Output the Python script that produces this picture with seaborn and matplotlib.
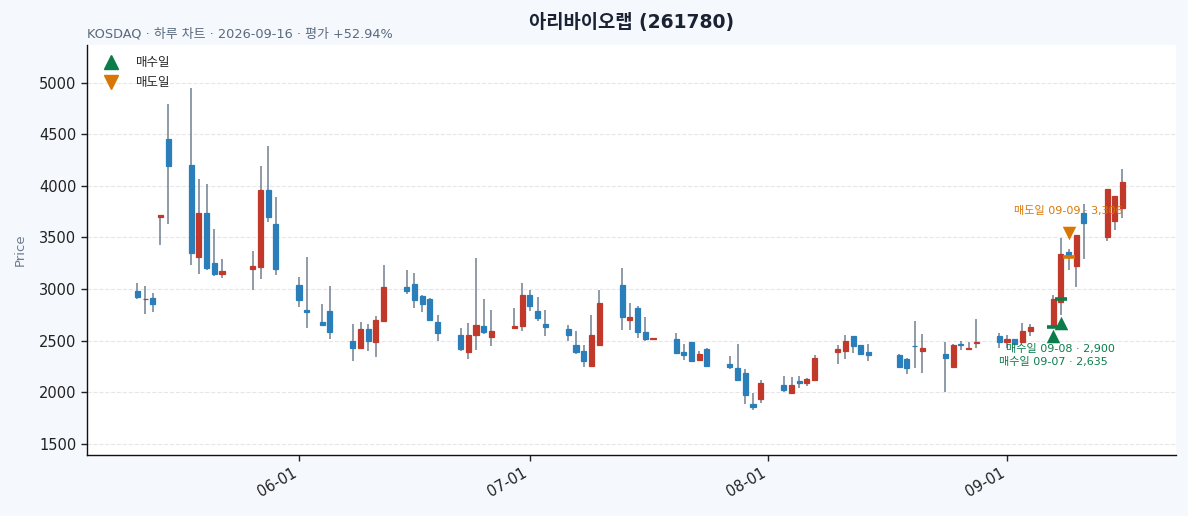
import pandas as pd
import numpy as np
import matplotlib
matplotlib.use("Agg")
import matplotlib.pyplot as plt
import matplotlib.dates as mdates
from matplotlib.lines import Line2D
import seaborn as sns

## daily candles
dates = ["2026-05-11", "2026-05-12", "2026-05-13", "2026-05-14", "2026-05-15",
         "2026-05-18", "2026-05-19", "2026-05-20", "2026-05-21", "2026-05-22",
         "2026-05-26", "2026-05-27", "2026-05-28", "2026-05-29",
         "2026-06-01", "2026-06-02", "2026-06-04", "2026-06-05",
         "2026-06-08", "2026-06-09", "2026-06-10", "2026-06-11", "2026-06-12",
         "2026-06-15", "2026-06-16", "2026-06-17", "2026-06-18", "2026-06-19",
         "2026-06-22", "2026-06-23", "2026-06-24", "2026-06-25", "2026-06-26",
         "2026-06-29", "2026-06-30", "2026-07-01", "2026-07-02", "2026-07-03",
         "2026-07-06", "2026-07-07", "2026-07-08", "2026-07-09", "2026-07-10",
         "2026-07-13", "2026-07-14", "2026-07-15", "2026-07-16", "2026-07-17",
         "2026-07-20", "2026-07-21", "2026-07-22", "2026-07-23", "2026-07-24",
         "2026-07-27", "2026-07-28", "2026-07-29", "2026-07-30", "2026-07-31",
         "2026-08-03", "2026-08-04", "2026-08-05", "2026-08-06", "2026-08-07",
         "2026-08-10", "2026-08-11", "2026-08-12", "2026-08-13", "2026-08-14",
         "2026-08-18", "2026-08-19", "2026-08-20", "2026-08-21",
         "2026-08-24", "2026-08-25", "2026-08-26", "2026-08-27", "2026-08-28",
         "2026-08-31", "2026-09-01", "2026-09-02", "2026-09-03", "2026-09-04",
         "2026-09-07", "2026-09-08", "2026-09-09", "2026-09-10", "2026-09-11",
         "2026-09-14", "2026-09-15", "2026-09-16"]

opens = [2981, 2900, 2910, 3701, 4451,
         4202, 3313, 3733, 3249, 3142,
         3197, 3217, 3959, 3630,
         3039, 2792, 2683, 2782,
         2500, 2423, 2609, 2487, 2692,
         3022, 3051, 2936, 2907, 2676,
         2551, 2391, 2555, 2644, 2538,
         2622, 2644, 2942, 2782, 2663,
         2615, 2455, 2397, 2256, 2458,
         3038, 2699, 2817, 2587, 2516,
         2519, 2385, 2484, 2314, 2417,
         2269, 2234, 2183, 1888, 1930,
         2068, 1994, 2106, 2090, 2119,
         2390, 2403, 2539, 2452, 2387,
         2355, 2316, 2448, 2394,
         2365, 2239, 2465, 2413, 2480,
         2548, 2487, 2519, 2487, 2590,
         2638, 2869, 3356, 3224, 3740,
         3503, 3657, 3785]

highs = [3055, 3032, 2958, 3717, 4790,
         4945, 4063, 4014, 3578, 3287,
         3371, 4195, 4382, 3888,
         3113, 3308, 2856, 3029,
         2663, 2683, 2663, 2740, 3231,
         3183, 3154, 2946, 2910, 2750,
         2625, 2673, 3298, 2904, 2798,
         2817, 3058, 2987, 2920, 2798,
         2654, 2590, 2455, 2750, 2994,
         3202, 2865, 2837, 2728, 2522,
         2574, 2462, 2490, 2394, 2423,
         2346, 2468, 2221, 1987, 2122,
         2152, 2142, 2152, 2139, 2355,
         2461, 2558, 2548, 2458, 2471,
         2365, 2335, 2690, 2568,
         2490, 2471, 2497, 2490, 2713,
         2574, 2558, 2519, 2670, 2660,
         2942, 3494, 3391, 3519, 3824,
         3968, 3904, 4160]

lows = [2900, 2754, 2774, 3426, 3630,
        3229, 3142, 3181, 3129, 3103,
        2987, 3094, 3652, 3132,
        2829, 2625, 2648, 2513,
        2301, 2420, 2394, 2337, 2690,
        2955, 2817, 2772, 2699, 2500,
        2400, 2321, 2407, 2567, 2449,
        2609, 2596, 2788, 2689, 2548,
        2497, 2369, 2240, 2256, 2458,
        2599, 2599, 2522, 2500, 2516,
        2365, 2314, 2301, 2304, 2250,
        2221, 2115, 1885, 1824, 1895,
        2000, 1994, 2042, 2058, 2119,
        2268, 2319, 2377, 2368, 2297,
        2248, 2171, 2229, 2181,
        2000, 2239, 2406, 2413, 2423,
        2423, 2423, 2455, 2487, 2542,
        2622, 2750, 3183, 3019, 3288,
        3462, 3574, 3689]

closes = [2926, 2905, 2851, 3717, 4195,
          3352, 3733, 3207, 3142, 3171,
          3220, 3959, 3701, 3197,
          2897, 2779, 2651, 2583,
          2423, 2609, 2497, 2696, 3022,
          2978, 2891, 2853, 2702, 2574,
          2417, 2558, 2654, 2583, 2596,
          2644, 2942, 2833, 2718, 2631,
          2554, 2391, 2298, 2551, 2859,
          2731, 2731, 2587, 2516, 2522,
          2378, 2362, 2304, 2365, 2256,
          2247, 2122, 1971, 1853, 2090,
          2019, 2065, 2090, 2126, 2326,
          2413, 2500, 2442, 2374, 2355,
          2248, 2229, 2442, 2432,
          2332, 2455, 2452, 2432, 2481,
          2490, 2516, 2462, 2596, 2635,
          2901, 3343, 3324, 3519, 3641,
          3968, 3904, 4038]

## trades
buy_dates = ["2026-09-07", "2026-09-08"]
buy_prices = [2635, 2900]
sell_dates = ["2026-09-09"]
sell_prices = [3306]

UP = "#c0392b"
DOWN = "#2a7fba"
WICK = "#708090"
BUY = "#0b7d4b"
SELL = "#d97706"

df = pd.DataFrame({"date": pd.to_datetime(dates), "open": opens, "high": highs,
                   "low": lows, "close": closes})
df["up"] = df["close"] >= df["open"]
df["color"] = np.where(df["up"], UP, DOWN)

sns.set_theme(style="white")
plt.rcParams["font.family"] = ["DejaVu Sans", "Noto Sans CJK KR"]
plt.rcParams["axes.unicode_minus"] = False

fig = plt.figure(figsize=(11.88, 5.16), dpi=100, facecolor="#f5f8fc")
ax = fig.add_axes([0.0732, 0.1182, 0.9167, 0.7946])
ax.set_facecolor("white")

## wicks then bodies
ax.vlines(df["date"], df["low"], df["high"], color=WICK, linewidth=1.1, zorder=2)
body_bottom = df[["open", "close"]].min(axis=1)
body_height = (df["close"] - df["open"]).abs()
ax.bar(df["date"], body_height, bottom=body_bottom, width=0.66, color=df["color"],
       edgecolor=df["color"], linewidth=0.9, zorder=3)

## trade markers
by = pd.to_datetime(buy_dates)
sy = pd.to_datetime(sell_dates)
buy_low = df.set_index("date").loc[by, "low"].values
sell_high = df.set_index("date").loc[sy, "high"].values
buys = pd.DataFrame({"date": by, "price": buy_prices, "mark": buy_low * 0.97})
sells = pd.DataFrame({"date": sy, "price": sell_prices, "mark": sell_high * 1.045})

ax.plot(buys["date"], buys["price"], linestyle="none", marker="_", markersize=8,
        markeredgewidth=2.6, color=BUY, zorder=4)
ax.plot(sells["date"], sells["price"], linestyle="none", marker="_", markersize=8,
        markeredgewidth=2.6, color=SELL, zorder=4)
sns.scatterplot(data=buys, x="date", y="mark", marker="^", s=95, color=BUY,
                edgecolor=BUY, linewidth=0, ax=ax, zorder=5, legend=False)
sns.scatterplot(data=sells, x="date", y="mark", marker="v", s=95, color=SELL,
                edgecolor=SELL, linewidth=0, ax=ax, zorder=5, legend=False)

for _, r in buys.iterrows():
    ax.annotate(f"매수일 {r['date']:%m-%d} · {r['price']:,}", (r["date"], r["mark"]),
                xytext=(0, -18.5), textcoords="offset points", ha="center", va="center",
                fontsize=8, color=BUY, zorder=6)
for _, r in sells.iterrows():
    ax.annotate(f"매도일 {r['date']:%m-%d} · {r['price']:,}", (r["date"], r["mark"]),
                xytext=(0, 16), textcoords="offset points", ha="center", va="center",
                fontsize=8, color=SELL, zorder=6)

## axes
ax.set_xlim(pd.Timestamp("2026-06-01") - pd.Timedelta(days=27.55),
            pd.Timestamp("2026-09-01") + pd.Timedelta(days=21.96))
ax.set_ylim(1390, 5365)
ax.set_yticks(np.arange(1500, 5001, 500))
ax.xaxis.set_major_locator(mdates.MonthLocator())
ax.xaxis.set_major_formatter(mdates.DateFormatter("%m-%d"))
plt.setp(ax.get_xticklabels(), rotation=30, ha="right")
ax.tick_params(axis="both", which="major", length=4, width=1, color="#222222",
               labelsize=10.5, labelcolor="#222222", left=True, bottom=True)
ax.grid(True, axis="y", linestyle="--", linewidth=0.8, color="#e6e6e6", zorder=0)
ax.set_axisbelow(True)
sns.despine(ax=ax)
for s in ["left", "bottom"]:
    ax.spines[s].set_color("#111111")
    ax.spines[s].set_linewidth(1.0)

ax.set_xlabel("")
ax.set_ylabel("Price", fontsize=9.5, color="#6b7c93", labelpad=9)
ax.set_title("아리바이오랩 (261780)", fontsize=13.5, fontweight="bold", color="#1a2233", pad=12.5)
ax.text(0, 1.012, "KOSDAQ · 하루 차트 · 2026-09-16 · 평가 +52.94%", transform=ax.transAxes,
        ha="left", va="bottom", fontsize=9.3, color="#5a6a7e")

handles = [Line2D([], [], linestyle="none", marker="^", markersize=10, color=BUY, label="매수일"),
           Line2D([], [], linestyle="none", marker="v", markersize=10, color=SELL, label="매도일")]
ax.legend(handles=handles, loc="upper left", frameon=False, fontsize=9, handletextpad=1.0,
          labelspacing=0.55)

fig.savefig("out.png", dpi=100, facecolor=fig.get_facecolor())
